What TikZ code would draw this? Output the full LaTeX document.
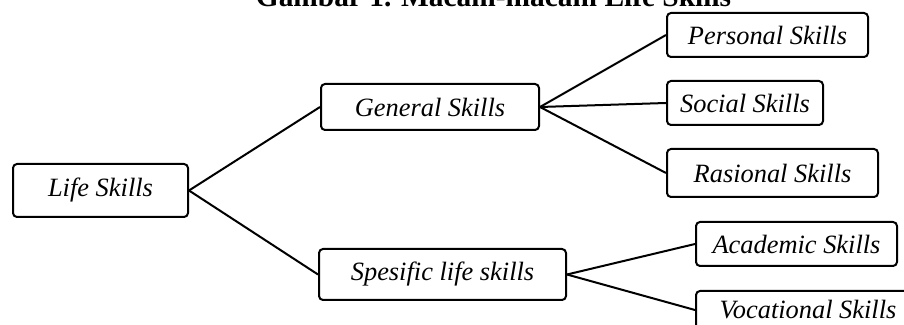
\documentclass[tikz,border=0pt]{standalone}
\usepackage{fontspec}
\setmainfont{Liberation Serif}
\begin{document}
\begin{tikzpicture}[x=0.5pt,y=-0.5pt,
  skillbox/.style={draw, line width=1pt, rounded corners=2pt, inner sep=0pt,
    font=\fontsize{13.2}{15}\selectfont\itshape, align=center},
  link/.style={line width=1pt}]
\useasboundingbox (0,0) rectangle (904,325);
\clip (0,0) rectangle (904,325);
\node[anchor=base, font=\fontsize{14.7}{17}\selectfont\bfseries] (title) at (493.5,7) {Gambar 1. Macam-macam Life Skills};
\node[skillbox, minimum width=87.5pt, minimum height=26.5pt] (life) at (100.5,190.5) {Life Skills};
\node[skillbox, minimum width=109pt, minimum height=23pt] (general) at (430,107) {General Skills};
\node[skillbox, minimum width=123.5pt, minimum height=25.5pt] (spesific) at (442.5,274.5) {Spesific life skills};
\node[skillbox, minimum width=100.5pt, minimum height=22pt] (personal) at (767.5,35) {Personal Skills};
\node[skillbox, minimum width=78pt, minimum height=22pt] (social) at (745,103) {Social Skills};
\node[skillbox, minimum width=105.5pt, minimum height=24pt] (rasional) at (772.5,173) {Rasional Skills};
\node[skillbox, minimum width=100.5pt, minimum height=22pt] (academic) at (796.5,244) {Academic Skills};
\node[skillbox, minimum width=112pt, minimum height=19pt] (vocational) at (808,310) {Vocational Skills};
\draw[link] (life.east) -- (general.west);
\draw[link] (life.east) -- (spesific.west);
\draw[link] (general.east) -- (personal.west);
\draw[link] (general.east) -- (social.west);
\draw[link] (general.east) -- (rasional.west);
\draw[link] (spesific.east) -- (academic.west);
\draw[link] (spesific.east) -- (vocational.west);
\end{tikzpicture}
\end{document}
